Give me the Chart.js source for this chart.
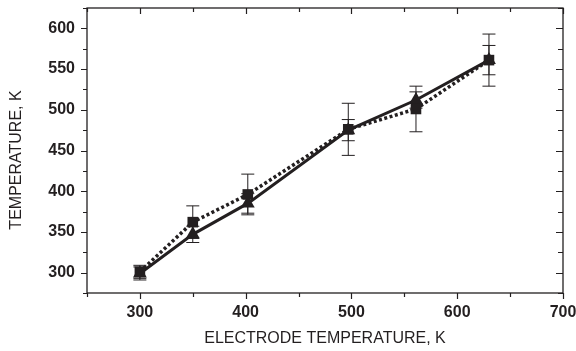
<!DOCTYPE html>
<html>
<head>
<meta charset="utf-8">
<script src="https://cdn.jsdelivr.net/npm/chart.js@4/dist/chart.umd.min.js"></script>
<style>
  html, body { margin: 0; padding: 0; background: #fff; }
  #wrap { width: 576px; height: 351px; }
</style>
</head>
<body>
<div id="wrap"><canvas id="chart" width="576" height="351"></canvas></div>
<script>
// electrode temperature (K)
const electrodeT = [300, 350, 402, 497, 561, 630];
// squares, dotted line
const squareT = [301, 362, 396, 476, 501, 561];
const squareErr = [8, 20, 25, 32, 28, 32];
// triangles, solid line
const triangleT = [299, 347, 385, 475, 512, 561];
const triangleErr = [8, 10, 12, 13, 10, 18];

const xTicks = [300, 400, 500, 600, 700];
const yTicks = [300, 350, 400, 450, 500, 550, 600];

const ink = '#231f20';

const toPoints = (ys) => electrodeT.map((x, i) => ({ x: x, y: ys[i] }));

// no label overhang padding, the layout padding below does it
const noOverhang = (s) => {
    s.paddingLeft = 0; s.paddingRight = 0;
    s.paddingTop = 0; s.paddingBottom = 0;
};

const errorBars = {
    id: 'errorBars',
    beforeDatasetsDraw(chart) {
        const { ctx, scales: { x, y } } = chart;
        ctx.save();
        ctx.strokeStyle = ink;
        ctx.lineWidth = 1;
        const sets = [[squareT, squareErr], [triangleT, triangleErr]];
        sets.forEach(([vals, errs]) => {
            vals.forEach((v, i) => {
                const px = x.getPixelForValue(electrodeT[i]);
                const top = y.getPixelForValue(v + errs[i]);
                const bot = y.getPixelForValue(v - errs[i]);
                ctx.beginPath();
                ctx.moveTo(px, top); ctx.lineTo(px, bot);
                ctx.moveTo(px - 6.5, top); ctx.lineTo(px + 6.5, top);
                ctx.moveTo(px - 6.5, bot); ctx.lineTo(px + 6.5, bot);
                ctx.stroke();
            });
        });
        ctx.restore();
    }
};

const frame = {
    id: 'frame',
    afterDraw(chart) {
        const { ctx, chartArea: a, scales: { x, y } } = chart;
        ctx.save();
        ctx.strokeStyle = ink;
        ctx.lineWidth = 1.3;
        ctx.strokeRect(a.left, a.top, a.right - a.left, a.bottom - a.top);

        ctx.lineWidth = 1.2;
        ctx.beginPath();
        for (let v = 250; v <= 700; v += 50) {
            const px = Math.round(x.getPixelForValue(v)) + 0.5;
            const len = v % 100 === 0 ? 6 : 4;
            ctx.moveTo(px, a.bottom); ctx.lineTo(px, a.bottom + len);
            ctx.moveTo(px, a.top); ctx.lineTo(px, a.top + len);
        }
        for (let v = 275; v <= 625; v += 25) {
            const py = Math.round(y.getPixelForValue(v)) + 0.5;
            const len = v % 50 === 0 ? 6 : 4;
            ctx.moveTo(a.left, py); ctx.lineTo(a.left - len, py);
            ctx.moveTo(a.right, py); ctx.lineTo(a.right - len - 1, py);
        }
        ctx.stroke();

        ctx.fillStyle = ink;
        ctx.font = '16px "Liberation Sans", Arial, sans-serif';
        ctx.textAlign = 'center';
        ctx.textBaseline = 'middle';
        ctx.fillText('ELECTRODE TEMPERATURE, K', (a.left + a.right) / 2, 339);
        ctx.translate(17, 160);
        ctx.rotate(-Math.PI / 2);
        ctx.fillText('TEMPERATURE, K', 0, 0);
        ctx.restore();
    }
};

new Chart(document.getElementById('chart'), {
    type: 'line',
    data: {
        datasets: [{
            data: toPoints(squareT),
            borderColor: ink,
            backgroundColor: ink,
            borderWidth: 3.5,
            borderDash: [3, 2.5],
            pointStyle: 'rect',
            pointRadius: 7.5,
            pointBorderWidth: 0,
            tension: 0
        }, {
            data: toPoints(triangleT),
            borderColor: ink,
            backgroundColor: ink,
            borderWidth: 3,
            pointStyle: 'triangle',
            pointRadius: 8,
            pointBorderWidth: 0,
            tension: 0
        }]
    },
    options: {
        responsive: false,
        animation: false,
        layout: { padding: { top: 8, right: 13, left: 0, bottom: 0 } },
        plugins: { legend: { display: false }, tooltip: { enabled: false } },
        scales: {
            x: {
                type: 'linear',
                min: 250, max: 700,
                afterBuildTicks(s) { s.ticks = xTicks.map(v => ({ value: v })); },
                afterFit(s) { s.height = 58; noOverhang(s); },
                grid: { display: false },
                border: { display: false },
                ticks: { color: ink, padding: 2, font: { size: 16, weight: 'bold', family: '"Liberation Sans", Arial, sans-serif' } }
            },
            y: {
                type: 'linear',
                min: 275, max: 625,
                afterBuildTicks(s) { s.ticks = yTicks.map(v => ({ value: v })); },
                afterFit(s) { s.width = 87; noOverhang(s); },
                grid: { display: false },
                border: { display: false },
                ticks: { color: ink, padding: 4, font: { size: 16, weight: 'bold', family: '"Liberation Sans", Arial, sans-serif' } }
            }
        }
    },
    plugins: [errorBars, frame]
});
</script>
</body>
</html>
